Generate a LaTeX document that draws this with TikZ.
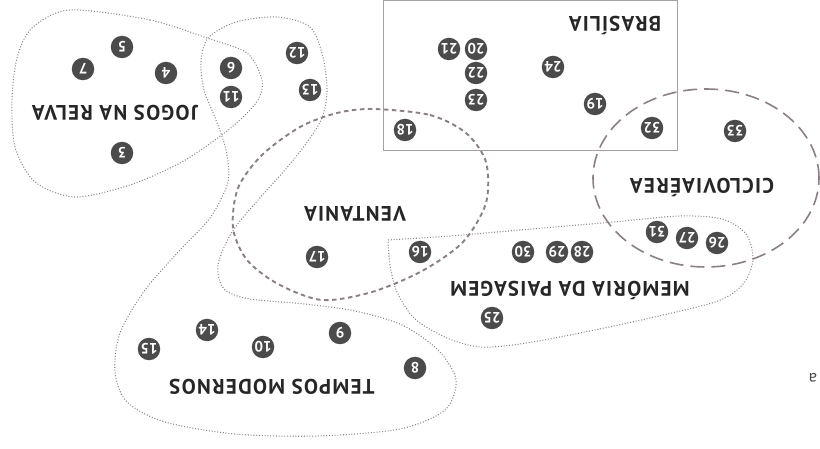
\documentclass[tikz,border=0pt]{standalone}
\usepackage{fontspec}
\setmainfont{PT Sans}
\definecolor{dotline}{HTML}{8E8489}
\definecolor{dashline}{HTML}{8A7F85}
\definecolor{boxline}{HTML}{A89FA4}
\definecolor{disc}{HTML}{4B4B4B}
\definecolor{labelink}{HTML}{262626}
\tikzset{
  zone/.style={draw=dotline, line width=1.05pt, dash pattern=on 1pt off 1.8pt},
  windzone/.style={draw=dashline, line width=1.9pt, dash pattern=on 4.5pt off 3.5pt},
  cablezone/.style={draw=dashline, line width=1.6pt, dash pattern=on 14pt off 7pt},
  num/.style={circle, fill=disc, text=white, minimum size=22.5pt, inner sep=0pt,
    font=\bfseries\fontsize{15}{15}\selectfont, rotate=180},
  title/.style={font=\bfseries\fontsize{21}{21}\selectfont\addfontfeature{LetterSpace=6},
    text=labelink, rotate=180, inner sep=0pt}
}
\begin{document}
\begin{tikzpicture}[x=1pt,y=-1pt]
\useasboundingbox (0,0) rectangle (820,449);

% zone outlines
\draw[boxline, line width=1pt] (383,1) rectangle (677,151);

\draw[zone] plot[smooth cycle] coordinates {
  (70,10) (150,20) (207,38) (247,53) (262,80) (258,100) (240,120)
  (215,140) (180,163) (130,185) (75,197) (35,182) (15,147) (12,100)
  (17,58) (32,28)};

\draw[zone] plot[smooth cycle] coordinates {
  (277,17) (310,27) (323,57) (327,93) (321,120) (305,145) (285,170)
  (258,200) (232,232) (218,265) (224,289) (250,299) (305,304)
  (355,311) (402,325) (438,350) (456,380) (445,410) (400,429)
  (317,436) (235,434) (165,422) (127,402) (115,372) (120,333)
  (145,290) (180,250) (210,218) (228,182) (226,150) (216,120)
  (204,90) (201,62) (208,38) (236,22)};

\draw[zone] plot[smooth] coordinates {
  (388,240) (450,236) (520,230) (613,222) (680,216) (722,219)
  (746,234) (753,259) (744,283) (718,301) (650,318) (580,333)
  (520,344) (480,347) (447,338) (415,319) (397,292) (390,265) (388,240)};

\draw[windzone] plot[smooth cycle] coordinates {
  (373,109) (430,115) (466,133) (486,162) (486,203) (463,242)
  (422,271) (372,292) (322,300) (278,284) (247,260) (233,228)
  (238,188) (262,155) (300,127) (337,113)};

\draw[cablezone] (706,178) ellipse [x radius=113pt, y radius=89pt];

% zone titles
\node[title] (tJogos) at (115,113) {JOGOS NA RELVA};
\node[title] (tBrasilia) at (615,25) {BRASÍLIA};
\node[title] (tCiclo) at (702,187) {CICLOVIAÉREA};
\node[title] (tVentania) at (355,214) {VENTANIA};
\node[title] (tMemoria) at (570,290) {MEMÓRIA DA PAISAGEM};
\node[title] (tTempos) at (272,387) {TEMPOS MODERNOS};

% numbered sites
\node[num] (n3) at (122,153) {3};
\node[num] (n4) at (166,73) {4};
\node[num] (n5) at (122,47) {5};
\node[num] (n6) at (231,68) {6};
\node[num] (n7) at (83,69) {7};
\node[num] (n8) at (415,368) {8};
\node[num] (n9) at (340,333) {9};
\node[num] (n10) at (263,347) {10};
\node[num] (n11) at (231,97) {11};
\node[num] (n12) at (297,53) {12};
\node[num] (n13) at (310,90) {13};
\node[num] (n14) at (207,330) {14};
\node[num] (n15) at (149,349) {15};
\node[num] (n16) at (420,252) {16};
\node[num] (n17) at (317,257) {17};
\node[num] (n18) at (405,130) {18};
\node[num] (n19) at (595,104) {19};
\node[num] (n20) at (476,49) {20};
\node[num] (n21) at (449,49) {21};
\node[num] (n22) at (476,73) {22};
\node[num] (n23) at (476,100) {23};
\node[num] (n24) at (553,67) {24};
\node[num] (n25) at (492,318) {25};
\node[num] (n26) at (717,243) {26};
\node[num] (n27) at (687,238) {27};
\node[num] (n28) at (582,252) {28};
\node[num] (n29) at (557,252) {29};
\node[num] (n30) at (523,252) {30};
\node[num] (n31) at (657,232) {31};
\node[num] (n32) at (652,128) {32};
\node[num] (n33) at (735,131) {33};

% stray glyph at the right edge
\node[rotate=180, text=disc, font=\fontsize{17}{17}\selectfont, inner sep=0pt] (edgeA) at (813,378) {a};
\end{tikzpicture}
\end{document}
